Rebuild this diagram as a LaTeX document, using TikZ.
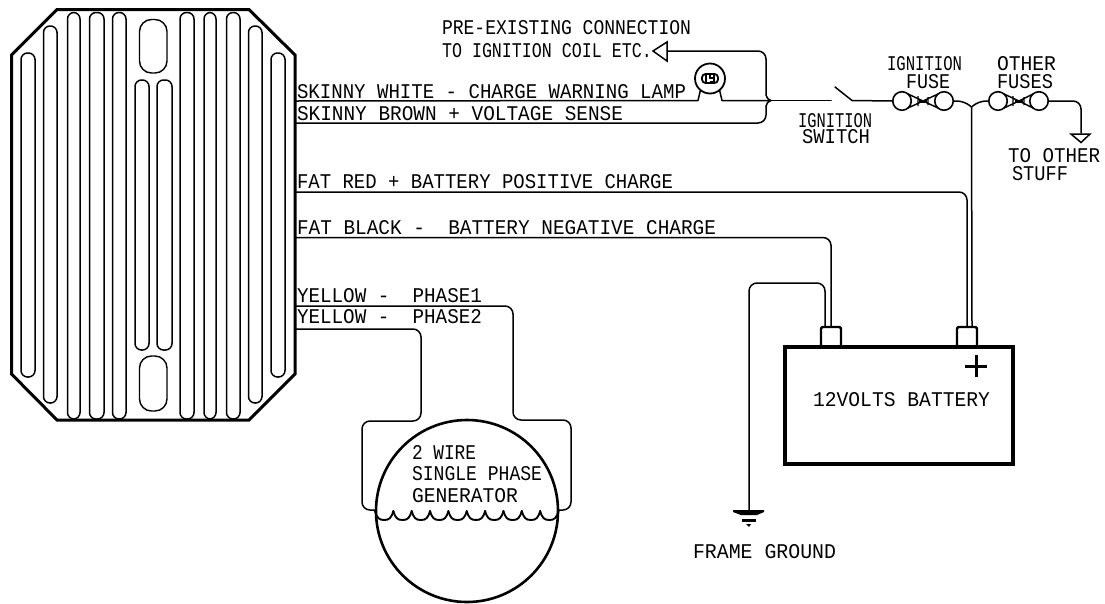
\documentclass[tikz,border=0pt]{standalone}
\usepackage{graphicx}
\usepackage{fontspec}
\setmainfont{Liberation Mono}
\newcommand{\lbl}[5]{\node[anchor=base west,inner sep=0pt,outer sep=0pt] (#1) at (#2,#3) {\resizebox{#4pt}{14pt}{#5}};}
\newcommand{\finbar}[4]{\draw[fin] (#1,#3) rectangle (#2,#4);}
\tikzset{
  wire/.style={line width=1.5pt,line cap=round,line join=round},
  bentwire/.style={wire,rounded corners=8pt},
  fin/.style={line width=1.5pt,rounded corners=6.5pt},
  oval/.style={line width=1.4pt,rounded corners=12pt},
  fusering/.style={circle,draw,line width=1.6pt,minimum size=18.5pt,inner sep=0pt,outer sep=0pt},
  tie/.style={line width=1.4pt,line join=miter},
  term/.style={draw,line width=2.4pt,rounded corners=2pt,minimum width=20pt,minimum height=20pt,inner sep=0pt,outer sep=0pt,anchor=south},
}
\begin{document}
\begin{tikzpicture}[x=1pt,y=-1pt]
\useasboundingbox (0,0) rectangle (1105,603);
% regulator
\draw[line width=3pt,line join=miter] (57,9.5) -- (249,9.5) -- (295,55) -- (295,374) -- (249,420) -- (57,420) -- (11.5,374) -- (11.5,55) -- cycle;
\finbar{21}{35}{53}{377}
\finbar{43.5}{57}{26}{403}
\finbar{67.5}{80}{12.5}{419}
\finbar{89.5}{104}{12.5}{419}
\finbar{112.5}{126}{12.5}{419}
\finbar{135}{149}{80}{350}
\finbar{157}{172}{80}{350}
\finbar{180}{194}{12.5}{419}
\finbar{204}{216}{12.5}{419}
\finbar{226.5}{240}{12.5}{419}
\finbar{248.5}{262}{26}{403}
\finbar{271}{285}{53}{377}
\draw[oval] (139.5,19.5) rectangle (167,73);
\draw[oval] (139.5,356) rectangle (167,411);
% regulator terminals
\coordinate (rw) at (295,101);
\coordinate (rb) at (295,123);
\coordinate (rr) at (295,192);
\coordinate (rk) at (295,237.5);
\coordinate (ry) at (295,306);
\coordinate (rz) at (295,329);
% labels
\lbl{t1}{442}{34}{249}{PRE-EXISTING CONNECTION}
\lbl{t2}{442}{57}{210}{TO IGNITION COIL ETC.}
\lbl{t3}{297}{98}{389}{SKINNY WHITE - CHARGE WARNING LAMP}
\lbl{t4}{297}{120}{326}{SKINNY BROWN + VOLTAGE SENSE}
\lbl{t5}{297}{188}{376}{FAT RED + BATTERY POSITIVE CHARGE}
\lbl{t6}{297}{234}{419}{FAT BLACK -\ \ BATTERY NEGATIVE CHARGE}
\lbl{t7}{297}{302}{185}{YELLOW -\ \ PHASE1}
\lbl{t8}{297}{323.5}{185}{YELLOW -\ \ PHASE2}
\lbl{t9}{798}{127}{74}{IGNITION}
\lbl{t10}{802}{143}{68}{SWITCH}
\lbl{t11}{887}{70}{75}{IGNITION}
\lbl{t12}{906}{88}{44}{FUSE}
\lbl{t13}{997}{70}{59}{OTHER}
\lbl{t14}{997}{88}{56}{FUSES}
\lbl{t15}{1008}{162}{92}{TO OTHER}
\lbl{t16}{1012}{180}{56}{STUFF}
\lbl{t17}{693}{558}{143}{FRAME GROUND}
\lbl{t18}{813}{406}{177}{12VOLTS BATTERY}
\lbl{t19}{412}{459}{64}{2 WIRE}
\lbl{t20}{412}{480}{130}{SINGLE PHASE}
\lbl{t21}{412}{502}{106}{GENERATOR}
% lamp
\node[circle,draw,line width=1.8pt,minimum size=30pt,inner sep=0pt,outer sep=0pt] (lamp) at (710,78.5) {};
\draw[line width=1.8pt,rounded corners=3.5pt] (702,74) rectangle (718,83);
\draw[line width=1.4pt] (706,75) -- (706,82) (710,75) -- (710,78) -- (714,78) (714,75) -- (714,82) (710,82) -- (714,82);
\coordinate (lampL) at (700.5,90);
\coordinate (lampR) at (719.5,90);
% switch & junction points
\coordinate (jn) at (771,100.5);
\coordinate (swA) at (835,87);
\coordinate (swB) at (852,100.5);
\draw[wire] (swA) -- (swB);
% arrowhead to coil
\coordinate (arrowtip) at (653,51);
\coordinate (arrowbase) at (667,51);
\draw[wire,line join=miter] (arrowtip) -- (667,42) -- (667,61) -- cycle;
% fuses
\node[fusering] (f1) at (902,101) {};
\node[fusering] (f2) at (944,101) {};
\node[fusering] (f3) at (998,101) {};
\node[fusering] (f4) at (1039,101) {};
\draw[tie] (908,94) -- (923,101) -- (908,108) (918,96) -- (918,106);
\draw[tie] (938,94) -- (923,101) -- (938,108) (928,97) -- (928,105);
\draw[line width=3pt] (919,101) -- (927,101);
\draw[tie] (1004,94) -- (1019,101) -- (1004,108) (1013,96) -- (1013,106);
\draw[tie] (1033,94) -- (1019,101) -- (1033,108) (1024,97) -- (1024,105);
\draw[line width=3pt] (1015,101) -- (1023,101);
\coordinate (jf) at (971.5,107);
% other stuff arrow
\coordinate (os) at (1081,133);
\draw[wire,line join=miter] (1071,134) -- (1090,134) -- (1081,142.5) -- cycle;
% battery
\node[draw,line width=3.2pt,minimum width=228pt,minimum height=117pt,inner sep=0pt,outer sep=0pt,anchor=north west] (bat) at (785,347) {};
\node[term] (tn) at (831,347) {};
\node[term] (tp) at (967,347) {};
\draw[line width=3pt] (965,366) -- (987,366) (976,355) -- (976,377);
% generator
\node[circle,draw,line width=2.6pt,minimum size=182pt,inner sep=0pt,outer sep=0pt] (gen) at (467,511) {};
\foreach \i in {0,...,9}{
  \pgfmathsetmacro{\xa}{375+18.35*\i}
  \draw[line width=1.9pt,line cap=round] (\xa,511) .. controls (\xa+2,518) and (\xa+4,520) .. (\xa+9.2,520) .. controls (\xa+14.3,520) and (\xa+16.3,518) .. (\xa+18.35,511);
}
\coordinate (gL) at (375,510);
\coordinate (gR) at (559,510);
% ground
\coordinate (gnd) at (749,511);
\fill (733,510) -- (764,510) -- (764,512) -- (757,515) -- (741,515) -- (733,512) -- cycle;
\fill (742,519) rectangle (756,521.5);
\fill (746,524) -- (751,524) -- (749,527) -- cycle;
% wires
\draw[wire] (rw) -- (698,100.5) -- (lampL);
\draw[wire] (lampR) -- (722,100.5) -- (jn);
\draw[wire] (jn) -- (831,100.5);
\draw[wire] (swB) -- (f1.west);
\draw[bentwire] (arrowbase) -- (766,51) -- (766,95);
\draw[wire] (766,95) .. controls (767,98) and (768,100) .. (jn) .. controls (768,101) and (767,103) .. (766,106);
\draw[bentwire] (766,106) -- (766,123) -- (rb);
\draw[bentwire] (rr) -- (967,192) -- (tp.north);
\draw[bentwire] (rk) -- (831,237.5) -- (tn.north);
\draw[bentwire] (gnd) -- (749,283) -- (825,283) -- (825,327);
\draw[wire,rounded corners=7pt] (f2.east) -- (964,101) -- (jf);
\draw[wire,rounded corners=7pt] (jf) -- (979,101) -- (f3.west);
\draw[wire] (jf) -- (972,327);
\draw[bentwire] (f4.east) -- (1081,101) -- (os);
\draw[bentwire] (ry) -- (513,306) -- (513,420) -- (571,420) -- (571,510) -- (gR);
\draw[bentwire] (rz) -- (421,329) -- (421,421) -- (362,421) -- (362,510) -- (gL);
\end{tikzpicture}
\end{document}
